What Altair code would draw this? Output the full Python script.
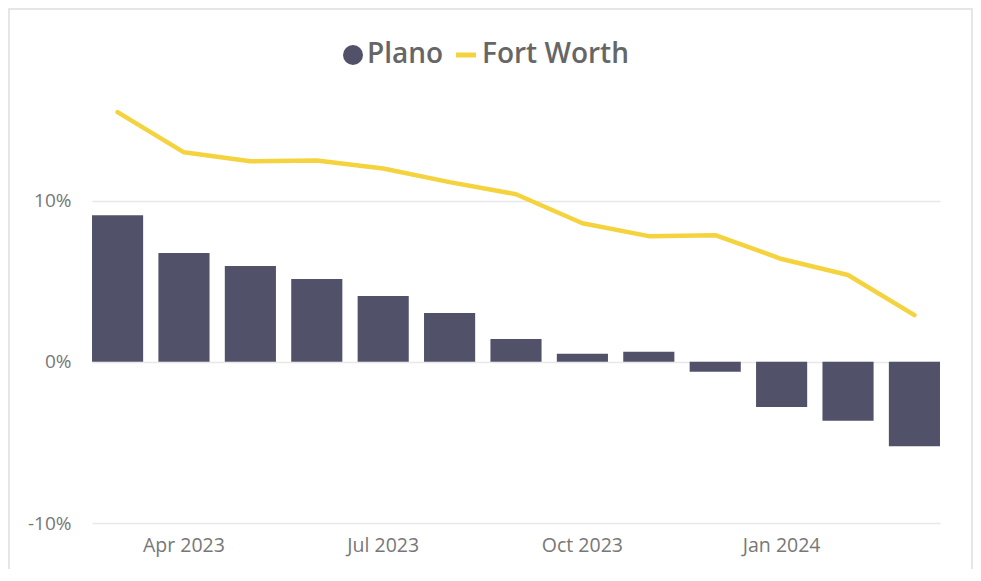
import altair as alt
import pandas as pd

months = ["Mar 2023", "Apr 2023", "May 2023", "Jun 2023", "Jul 2023", "Aug 2023",
          "Sep 2023", "Oct 2023", "Nov 2023", "Dec 2023", "Jan 2024", "Feb 2024", "Mar 2024"]
plano = [9.1, 6.75, 5.94, 5.14, 4.09, 3.03, 1.42, 0.5, 0.62, -0.62, -2.8, -3.65, -5.24]
fort_worth = [15.5, 13.0, 12.45, 12.5, 12.0, 11.15, 10.4, 8.6, 7.8, 7.86, 6.38, 5.39, 2.9]
tick_months = ["Apr 2023", "Jul 2023", "Oct 2023", "Jan 2024"]
y_ticks = [-0.1, 0.0, 0.1]

BAR = "#51526A"
LINE = "#F4D33F"
FRAME = "#E6E6E6"
FONT = "Segoe UI, Open Sans, sans-serif"

df = pd.DataFrame({
    "month": months,
    "plano": [v / 100 for v in plano],
    "fort_worth": [v / 100 for v in fort_worth],
})

x = alt.X("month:O", sort=months,
          scale=alt.Scale(paddingInner=0.23, paddingOuter=0),
          axis=alt.Axis(values=tick_months, title=None, domain=False, ticks=False,
                        labelAngle=0, labelFontSize=19.5, labelColor="#777777",
                        labelPadding=13, labelFont=FONT, grid=False))

yscale = alt.Scale(domain=[-0.1, 0.16], nice=False, zero=False)
yaxis = alt.Axis(values=y_ticks, format=".0%", title=None, domain=False, ticks=False,
                 labelExpr="replace(datum.label, '\u2212', '-')",
                 grid=True, gridColor="#E8E8E8", gridWidth=1.5, labelPadding=21,
                 labelFontSize=19, labelColor="#777777", labelFont=FONT)


def make_legend(lx, sym, sw, off):
    return alt.Legend(
        title=None, orient="none", legendX=lx, legendY=-63, direction="horizontal",
        symbolSize=400, labelFontSize=28, labelFontWeight=600, labelColor="#666666",
        labelFont=FONT, labelOffset=off, padding=0, symbolType=sym,
        symbolStrokeWidth=sw, symbolOpacity=1,
    )


bars = alt.Chart(df).transform_calculate(series='"Plano"').mark_bar().encode(
    x=x,
    y=alt.Y("plano:Q", scale=yscale, axis=yaxis),
    color=alt.Color("series:N", scale=alt.Scale(domain=["Plano"], range=[BAR]),
                    legend=make_legend(247, "circle", 0, 0)),
)

line = alt.Chart(df).transform_calculate(series='"Fort Worth"').mark_line(
    strokeWidth=4.5, strokeCap="round", strokeJoin="round"
).encode(
    x=x,
    y=alt.Y("fort_worth:Q", scale=yscale, axis=yaxis),
    color=alt.Color("series:N", scale=alt.Scale(domain=["Fort Worth"], range=[LINE]),
                    legend=make_legend(360, "stroke", 5, 2)),
)

one = pd.DataFrame({"a": [0]})
left_strip = alt.Chart(one).mark_rect(color=FRAME).encode(
    x=alt.value(-84), x2=alt.value(-82), y=alt.value(-96), y2=alt.value(600))
top_strip = alt.Chart(one).mark_rect(color=FRAME).encode(
    x=alt.value(-84), x2=alt.value(881), y=alt.value(-96), y2=alt.value(-94))
right_strip = alt.Chart(one).mark_rect(color=FRAME).encode(
    x=alt.value(879), x2=alt.value(881), y=alt.value(-96), y2=alt.value(600))

chart = alt.layer(bars, line, left_strip, top_strip, right_strip).resolve_scale(
    color="independent"
).properties(
    width=848, height=419,
    padding={"left": 84, "top": 96, "right": 33, "bottom": 46},
    autosize=alt.AutoSizeParams(type="none"),
    background="white",
).configure_view(stroke=None)

chart.save("out.html", embed_options={"renderer": "svg", "actions": False})
